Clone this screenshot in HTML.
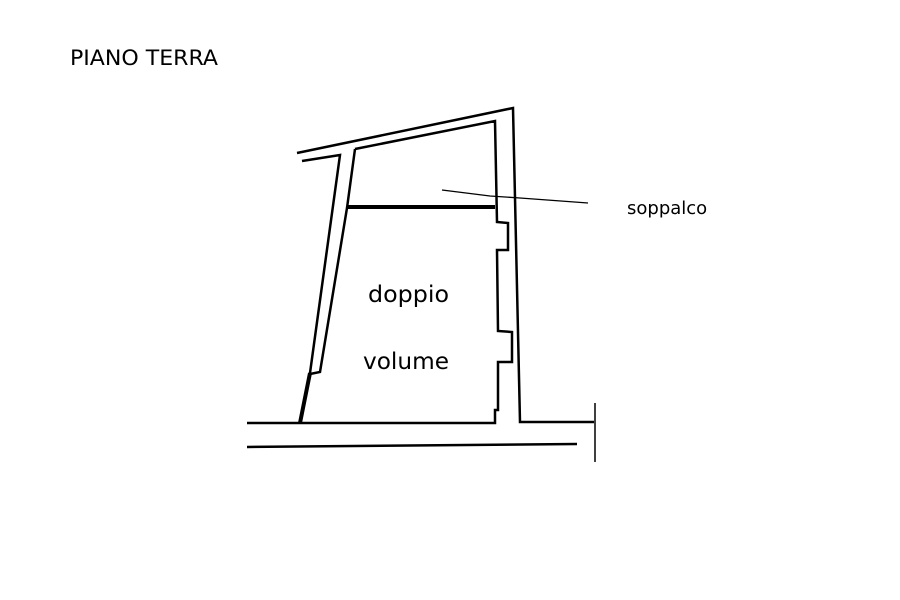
<!DOCTYPE html>
<html><head><style>
html,body{margin:0;padding:0;background:#fff;width:900px;height:600px;overflow:hidden}
</style></head><body>
<svg width="900" height="600" viewBox="0 0 900 600" xmlns="http://www.w3.org/2000/svg">
<g fill="none" stroke="#000" stroke-width="2.5" stroke-linejoin="miter">
<polyline points="297,153 513,108 520,422 594,422"/>
<line x1="595" y1="403" x2="595" y2="462" stroke-width="1.5"/>
<polyline points="302,161 340,155 310,373 300,423"/>
<line x1="310" y1="373" x2="300" y2="423" stroke-width="4"/>
<polyline points="355,149 495,121 497,222 508,223 508,250 497,250 498,331 512,332 512,362 498,362 498,410 495,410 495,423 247,423"/>
<polyline points="355,149 347,208 320,372 310,374"/>
<line x1="347" y1="207" x2="495" y2="207" stroke-width="4"/>
<line x1="247" y1="447" x2="577" y2="444"/>
<polyline points="442,190 490,196 520,198 588,203" stroke-width="1.3"/>
</g>
<g font-family="DejaVu Sans, Liberation Sans, sans-serif" fill="#000">
<text x="70" y="65" font-size="21" textLength="148" lengthAdjust="spacingAndGlyphs">PIANO TERRA</text>
<text x="627" y="214" font-size="18">soppalco</text>
<text x="368" y="302" font-size="23" textLength="81" lengthAdjust="spacingAndGlyphs">doppio</text>
<text x="363" y="369" font-size="23" textLength="86" lengthAdjust="spacingAndGlyphs">volume</text>
</g>
</svg>
</body></html>
